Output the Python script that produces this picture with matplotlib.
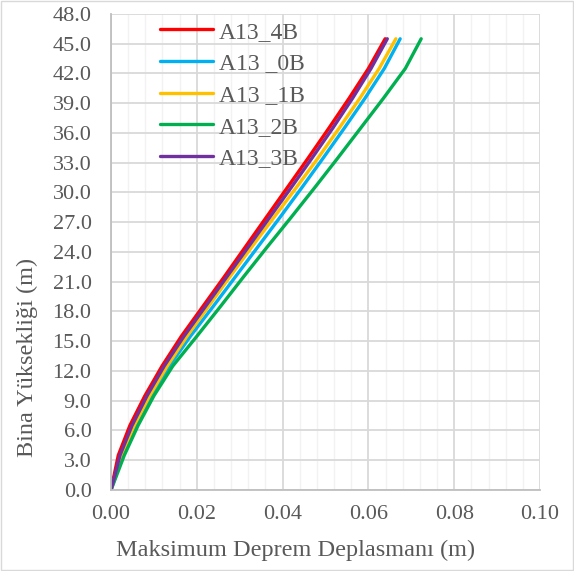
import numpy as np
import matplotlib
matplotlib.use("Agg")
from matplotlib import pyplot as plt
from matplotlib.patches import Rectangle

# kat yukseklikleri (m)
heights = [0.0, 3.5, 6.5, 9.5, 12.5, 15.5, 18.5, 21.5, 24.5, 27.5, 30.5,
           33.5, 36.5, 39.5, 42.5, 45.5]

# maksimum deplasmanlar (m)
a13_4b = [0.0, 0.0017, 0.0044, 0.0079, 0.0119, 0.0164, 0.0214, 0.0264, 0.0313,
          0.0362, 0.0411, 0.0460, 0.0508, 0.0555, 0.0600, 0.0639]
a13_0b = [0.0, 0.0027, 0.0058, 0.0094, 0.0136, 0.0185, 0.0238, 0.0290, 0.0342,
          0.0394, 0.0445, 0.0495, 0.0544, 0.0592, 0.0637, 0.0674]
a13_1b = [0.0, 0.0024, 0.0054, 0.0090, 0.0131, 0.0177, 0.0227, 0.0277, 0.0328,
          0.0380, 0.0432, 0.0483, 0.0532, 0.0580, 0.0625, 0.0664]
a13_2b = [0.0, 0.0031, 0.0063, 0.0100, 0.0144, 0.0200, 0.0255, 0.0309, 0.0364,
          0.0420, 0.0475, 0.0529, 0.0582, 0.0635, 0.0686, 0.0723]
a13_3b = [0.0, 0.0021, 0.0049, 0.0084, 0.0124, 0.0170, 0.0220, 0.0270, 0.0320,
          0.0370, 0.0420, 0.0469, 0.0517, 0.0563, 0.0606, 0.0644]

names = ["A13_4B", "A13 _0B", "A13 _1B", "A13_2B", "A13_3B"]
colors = ["#ff0000", "#00b0f0", "#ffc000", "#00b050", "#7030a0"]
series = [a13_4b, a13_0b, a13_1b, a13_2b, a13_3b]

plt.rcParams["font.family"] = ["Liberation Serif", "DejaVu Serif"]

fig = plt.figure(figsize=(5.74, 5.71), dpi=100)
ax = fig.add_axes([0.1934, 0.1419, 0.7474, 0.8336])

for vals, nm, c in zip(series, names, colors):
    ax.plot(vals, heights, color=c, lw=2.4, label=nm,
            solid_joinstyle="round", solid_capstyle="round")

ax.set_xlim(0, 0.10)
ax.set_ylim(0, 48)
ax.set_xticks(np.arange(0, 0.1001, 0.02))
ax.set_xticks(np.arange(0, 0.1001, 0.004), minor=True)
ax.set_yticks(np.arange(0, 48.01, 3.0))
ax.set_xticklabels([f"{v:.2f}" for v in np.arange(0, 0.1001, 0.02)])
ax.set_yticklabels([f"{v:.1f}" for v in np.arange(0, 48.01, 3.0)])
ax.grid(which="major", color="#d9d9d9", lw=1.3)
ax.grid(which="minor", axis="x", color="#f2f2f2", lw=1.0)
ax.set_axisbelow(True)
ax.tick_params(which="both", length=0, labelsize=16, colors="#595959")
ax.tick_params(axis="y", pad=14)
ax.tick_params(axis="x", pad=11)
for side in ["top", "right"]:
    ax.spines[side].set_visible(False)
for side in ["left", "bottom"]:
    ax.spines[side].set_color("#bfbfbf")
    ax.spines[side].set_linewidth(1.3)

ax.set_xlabel("Maksimum Deprem Deplasmanı (m)", fontsize=17.5, color="#595959")
ax.set_ylabel("Bina Yüksekliği (m)", fontsize=17.5, color="#595959")
ax.xaxis.set_label_coords(0.431, -0.128)
ax.xaxis.label.set_verticalalignment("center")
ax.yaxis.set_label_coords(-0.196, 0.279)
ax.yaxis.label.set_verticalalignment("center")

ax.legend(loc="upper left", bbox_to_anchor=(0.114, 0.985), frameon=False,
          fontsize=17, labelcolor="#595959", handlelength=2.25,
          handletextpad=0.25, labelspacing=0.43, borderaxespad=0, borderpad=0)

fig.patches.append(Rectangle((0.002, 0.002), 0.996, 0.996, transform=fig.transFigure,
                             fill=False, edgecolor="#d9d9d9", lw=1.0))

fig.savefig("out.png", dpi=100)
